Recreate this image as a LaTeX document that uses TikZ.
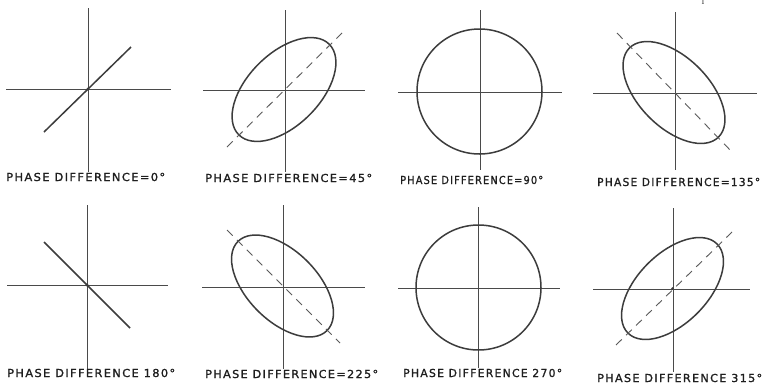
\documentclass[tikz,border=0pt]{standalone}
\usepackage{fontspec}
\usepackage{graphicx}
\newfontfamily\lblfont[LetterSpace=12,FakeBold=1.2]{DejaVu Sans}
\definecolor{axisgray}{HTML}{4A4A4A}
\definecolor{curvegray}{HTML}{3C3C3C}
\definecolor{dashgray}{HTML}{5A5A5A}
\definecolor{textgray}{HTML}{1E1E1E}
\newcommand\lbltext[2]{\resizebox{#1pt}{\height}{#2}}
\begin{document}
\begin{tikzpicture}[x=1pt,y=-1pt,
  axis/.style={draw=axisgray, line width=0.9pt},
  curve/.style={draw=curvegray, line width=1.5pt},
  dashline/.style={draw=dashgray, line width=0.9pt, dash pattern=on 8pt off 6pt},
  lbl/.style={anchor=base west, inner sep=0pt, font=\lblfont\fontsize{11}{13}\selectfont, text=textgray},
  cdot/.style={fill=curvegray, draw=none}]
\useasboundingbox[fill=white] (0,0) rectangle (769,386);
% small cropped mark at top
\node[anchor=south, inner sep=0pt, font=\fontsize{7}{8}\selectfont, text=textgray] (mark) at (703,5) {I};

% ---- Panel 1: 0 deg
\coordinate (c1) at (88,89);
\draw[axis] (88,8) -- (88,172);
\draw[axis] (6,89) -- (171,89);
\draw[curve] (44,132) -- (131,47);
\fill[cdot] (c1) circle (1.6);
\node[lbl] (l1) at (6,181) {\lbltext{159}{PHASE DIFFERENCE=0°}};

% ---- Panel 2: 45 deg
\coordinate (c2) at (284,89.5);
\draw[axis] (285,10) -- (285,172);
\draw[axis] (203,90) -- (365,90);
\draw[curve, rotate around={45:(c2)}] (c2) ellipse [x radius=64, y radius=36];
\draw[dashline] (227,147) -- (343,32);
\node[lbl] (l2) at (205,182) {\lbltext{167}{PHASE DIFFERENCE=45°}};

% ---- Panel 3: 90 deg
\coordinate (c3) at (479.5,91.5);
\draw[axis] (480,10) -- (480,170);
\draw[axis] (398,92) -- (562,92);
\draw[curve] (c3) circle (62.5);
\node[lbl] (l3) at (400,184) {\lbltext{143}{PHASE DIFFERENCE=90°}};

% ---- Panel 4: 135 deg
\coordinate (c4) at (674,92.5);
\draw[axis] (675,12) -- (675,170);
\draw[axis] (593,93) -- (757,93);
\draw[curve, rotate around={-45:(c4)}] (c4) ellipse [x radius=63, y radius=35];
\draw[dashline] (617,33) -- (732,152);
\node[lbl] (l4) at (597,186) {\lbltext{163}{PHASE DIFFERENCE=135°}};

% ---- Panel 5: 180 deg
\coordinate (c5) at (87,285);
\draw[axis] (87,205) -- (87,372);
\draw[axis] (7,285) -- (168,285);
\draw[curve] (44,242) -- (130,328);
\fill[cdot] (c5) circle (1.6);
\node[lbl] (l5) at (7,377) {\lbltext{168}{PHASE DIFFERENCE 180°}};

% ---- Panel 6: 225 deg
\coordinate (c6) at (282.5,286);
\draw[axis] (283,205) -- (283,369);
\draw[axis] (202,287) -- (365,287);
\draw[curve, rotate around={-45:(c6)}] (c6) ellipse [x radius=63, y radius=35];
\draw[dashline] (227,230) -- (340,343);
\node[lbl] (l6) at (205,378) {\lbltext{173}{PHASE DIFFERENCE=225°}};

% ---- Panel 7: 270 deg
\coordinate (c7) at (478.5,287.5);
\draw[axis] (478,207) -- (478,368);
\draw[axis] (398,288) -- (560,288);
\draw[curve] (c7) circle (62.5);
\node[lbl] (l7) at (403,377) {\lbltext{159}{PHASE DIFFERENCE 270°}};

% ---- Panel 8: 315 deg
\coordinate (c8) at (672.5,288.5);
\draw[axis] (673,208) -- (673,372);
\draw[axis] (593,289) -- (750,289);
\draw[curve, rotate around={45:(c8)}] (c8) ellipse [x radius=63, y radius=35];
\draw[dashline] (616,345) -- (732,232);
\fill[cdot] (c8) circle (1.4);
\node[lbl] (l8) at (597,382) {\lbltext{165}{PHASE DIFFERENCE 315°}};
\end{tikzpicture}
\end{document}
